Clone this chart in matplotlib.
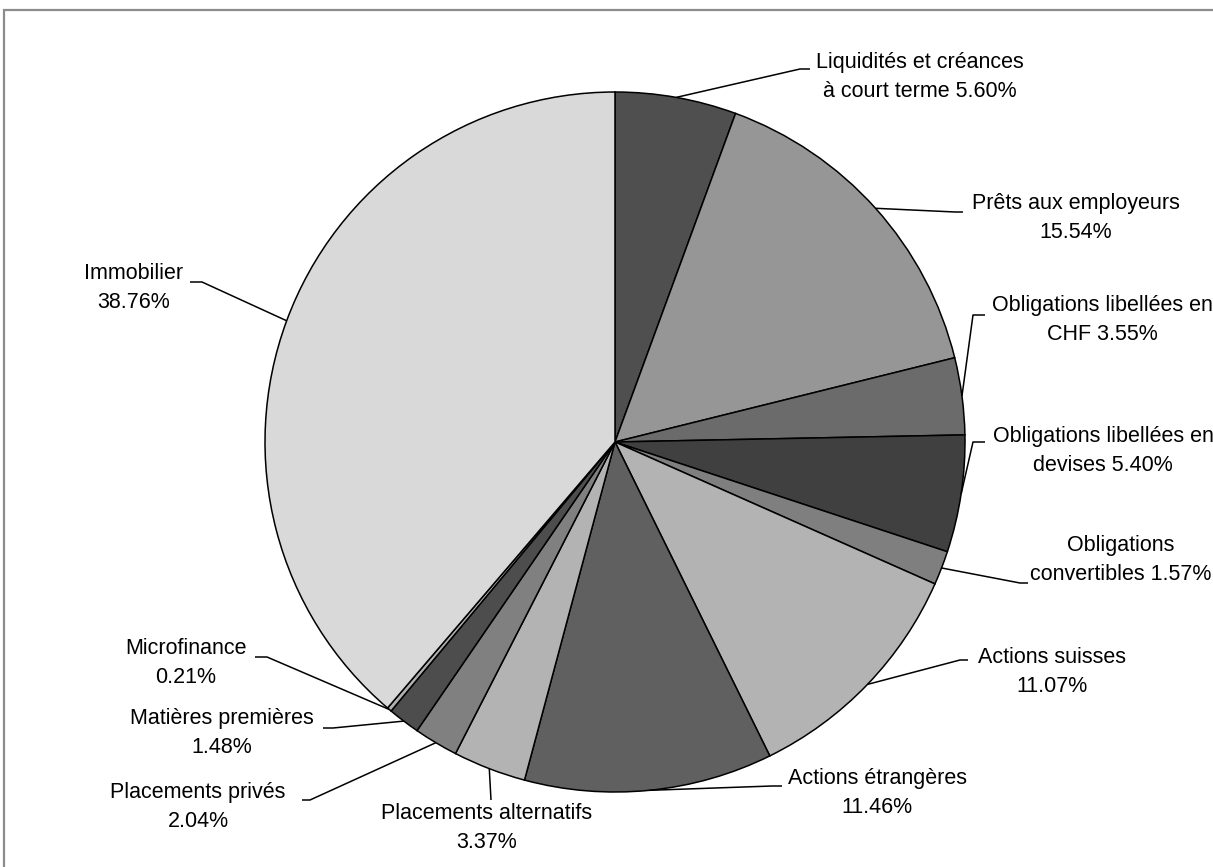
import numpy as np
import matplotlib
matplotlib.use("Agg")
import matplotlib.pyplot as plt
from matplotlib.patches import Rectangle

plt.rcParams['font.family'] = ['Liberation Sans', 'DejaVu Sans']

# données (ordre horaire depuis midi)
categories = [
    "Liquidités et créances\nà court terme",
    "Prêts aux employeurs",
    "Obligations libellées en\nCHF",
    "Obligations libellées en\ndevises",
    "Obligations\nconvertibles",
    "Actions suisses",
    "Actions étrangères",
    "Placements alternatifs",
    "Placements privés",
    "Matières premières",
    "Microfinance",
    "Immobilier",
]
parts = [5.60, 15.54, 3.55, 5.40, 1.57, 11.07, 11.46, 3.37, 2.04, 1.48, 0.21, 38.76]
colors = ['#4f4f4f', '#969696', '#6b6b6b', '#404040', '#7f7f7f', '#b3b3b3',
          '#606060', '#b3b3b3', '#808080', '#4d4d4d', '#b0b0b0', '#d9d9d9']

# mise en page (pixels, y vers le bas)
W, H = 1213, 867
cx, cy, R = 615, 442, 350
elbows = [(800, 69), (955, 212), (973, 315), (973, 442), (1020, 583), (960, 660),
          (772, 786), (491, 800), (310, 800), (333, 728), (267, 657), (202, 282)]
ends = [(810, 69), (963, 212), (985, 315), (985, 442), (1028, 583), (968, 660),
        (782, 786), (491, 800), (302, 800), (323, 728), (255, 657), (190, 282)]
text_pos = [(920, 77), (1076, 218), (1102, 320), (1103, 451), (1121, 560), (1052, 672),
            (877, 793), (487, 828), (198, 807), (222, 733), (186, 663), (134, 288)]

fig = plt.figure(figsize=(W / 100, H / 100), dpi=100)
ax = fig.add_axes([0, 0, 1, 1])

wedges, _ = ax.pie(parts, colors=colors, startangle=90, counterclock=False,
                   center=(cx, H - cy), radius=R,
                   wedgeprops=dict(edgecolor='black', linewidth=1.1))

for i, w in enumerate(wedges):
    mid = np.deg2rad((w.theta1 + w.theta2) / 2)
    x0 = cx + R * np.cos(mid)
    y0 = (H - cy) + R * np.sin(mid)
    ex, ey = elbows[i]
    hx, hy = ends[i]
    ax.plot([x0, ex, hx], [y0, H - ey, H - hy], color='black', lw=1.1,
            solid_capstyle='butt', zorder=5)
    name = categories[i]
    sep = " " if "\n" in name else "\n"
    label = f"{name}{sep}{parts[i]:.2f}%"
    tx, ty = text_pos[i]
    ax.text(tx, H - ty, label, ha='center', va='center', fontsize=15.5,
            linespacing=1.45, color='black')

ax.set_xlim(0, W)
ax.set_ylim(0, H)
ax.set_aspect('equal')
ax.axis('off')

# cadre gris
fig.patches.append(Rectangle((4 / W, 0 - 0.1), 1.2, (H - 10) / H + 0.1,
                             transform=fig.transFigure, fill=False,
                             edgecolor='#8c8c8c', linewidth=1.6))

fig.savefig('out.png', dpi=100)
